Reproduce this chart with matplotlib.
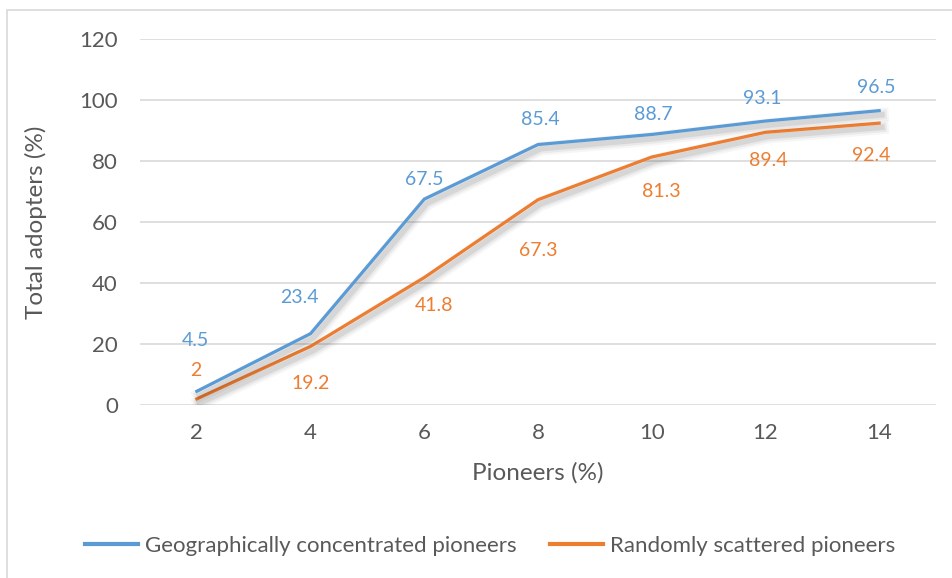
import matplotlib.pyplot as plt
import matplotlib.patheffects as pe
from matplotlib.patches import Rectangle

plt.rcParams['font.family'] = ['Lato', 'DejaVu Sans']

# data
pioneers = ['2', '4', '6', '8', '10', '12', '14']
concentrated = [4.5, 23.4, 67.5, 85.4, 88.7, 93.1, 96.5]
scattered = [2, 19.2, 41.8, 67.3, 81.3, 89.4, 92.4]

# label offsets (pixels) as placed in the original chart
conc_off = [(-1, 51), (-11, 36), (0, 20), (2, 25), (2, 20), (-3, 23), (-3, 23)]
scat_off = [(-1, 28), (0, -37), (10, -28), (0, -51), (10, -34), (3, -28), (-8, -32)]

BLUE = '#5B9BD5'
ORANGE = '#ED7D31'
GREY = '#595959'
GRID = '#D9D9D9'

W, H = 952, 578
fig = plt.figure(figsize=(W / 100, H / 100), dpi=100)

# chart border (Excel chart area), cut off at right and bottom
fig.patches.append(Rectangle((7 / W, -0.1), 1, 1.1 - 10 / H, transform=fig.transFigure,
                             fill=False, edgecolor=GRID, linewidth=1.2))

ax = fig.add_axes([140 / W, 1 - 405 / H, (936 - 140) / W, (405 - 39) / H])

x = list(range(len(pioneers)))


def shadow():
    return [pe.SimpleLineShadow(offset=(2, -3), shadow_color='k', alpha=0.035, linewidth=10),
            pe.SimpleLineShadow(offset=(2, -3), shadow_color='k', alpha=0.05, linewidth=7),
            pe.SimpleLineShadow(offset=(2, -3), shadow_color='k', alpha=0.08, linewidth=4),
            pe.Normal()]


ax.plot(x, concentrated, color=BLUE, lw=2.3, label='Geographically concentrated pioneers',
        path_effects=shadow(), zorder=4)
ax.plot(x, scattered, color=ORANGE, lw=2.3, label='Randomly scattered pioneers',
        path_effects=shadow(), zorder=3)

for xi, v, (dx, dy) in zip(x, concentrated, conc_off):
    ax.annotate(f'{v:g}', (xi, v), xytext=(dx, dy), textcoords='offset pixels',
                ha='center', va='center', color=BLUE, fontsize=14)
for xi, v, (dx, dy) in zip(x, scattered, scat_off):
    ax.annotate(f'{v:g}', (xi, v), xytext=(dx, dy), textcoords='offset pixels',
                ha='center', va='center', color=ORANGE, fontsize=14)

ax.set_xlim(-0.5, len(pioneers) - 0.5)
ax.set_ylim(0, 120)
ax.set_yticks(range(0, 121, 20))
ax.set_xticks(x)
ax.set_xticklabels(pioneers)
ax.grid(axis='y', color=GRID, lw=1.2)
ax.set_axisbelow(True)
for s in ax.spines.values():
    s.set_visible(False)
ax.tick_params(length=0, colors=GREY, labelsize=16)
ax.tick_params(axis='y', pad=16)
ax.tick_params(axis='x', pad=13)

ax.set_xlabel('Pioneers (%)', color=GREY, fontsize=17.5, labelpad=14)
ax.set_ylabel('Total adopters (%)', color=GREY, fontsize=17.5, labelpad=23)

leg = fig.legend(loc='center', bbox_to_anchor=(490 / W, 1 - 546 / H), ncol=2,
                 frameon=False, fontsize=16, labelcolor=GREY, handlelength=2.4,
                 handletextpad=0.3, columnspacing=1.5)
for h in leg.get_lines():
    h.set_linewidth(3)
    h.set_path_effects([])

fig.savefig('out.png', dpi=100)
